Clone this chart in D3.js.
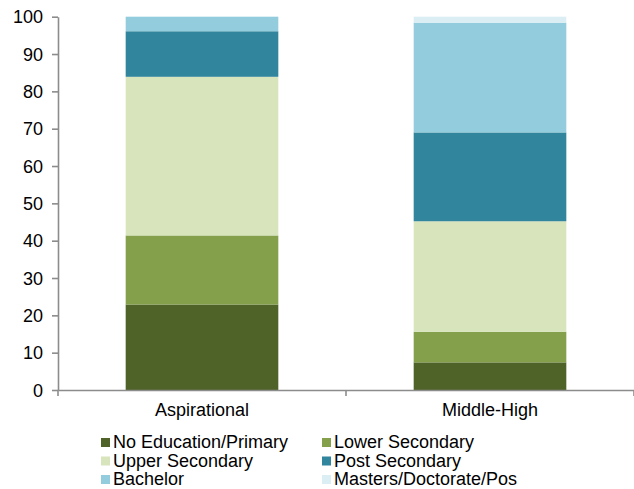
<!DOCTYPE html>
<html>
<head>
<meta charset="utf-8">
<script src="https://cdn.jsdelivr.net/npm/d3@7"></script>
<style>
  body { margin: 0; background: #fff; }
  text { font-family: "Liberation Sans", Arial, sans-serif; fill: #000; }
  .axis path, .axis line { stroke: #8c8c8c; stroke-width: 1.6; }
</style>
</head>
<body>
<svg id="chart" width="634" height="489"></svg>
<script>
const categories = ['Aspirational', 'Middle-High']
const seriesNames = ['No Education/Primary', 'Lower Secondary', 'Upper Secondary', 'Post Secondary', 'Bachelor', 'Masters/Doctorate/Pos']
const noEducation = [22.9, 7.4]
const lowerSecondary = [18.5, 8.2]
const upperSecondary = [42.5, 29.6]
const postSecondary = [12.2, 23.8]
const bachelor = [3.9, 29.4]
const masters = [0, 1.6]
const yTicks = [0, 10, 20, 30, 40, 50, 60, 70, 80, 90, 100]
const colors = ['#4f6228', '#84a04b', '#d8e4bc', '#31859c', '#93cddd', '#dbeef4']

const seriesValues = [noEducation, lowerSecondary, upperSecondary, postSecondary, bachelor, masters]
const rows = categories.map((c, i) => {
  const row = { category: c }
  seriesNames.forEach((s, j) => { row[s] = seriesValues[j][i] })
  return row
})

const svg = d3.select('#chart')
const plotLeft = 58, plotRight = 634, plotTop = 16.7, plotBottom = 390

const xScale = d3.scaleBand()
  .domain(categories)
  .range([plotLeft, plotRight])
  .paddingInner(0.47)
  .paddingOuter(0.235)
const yScale = d3.scaleLinear().domain([0, 100]).range([plotBottom, plotTop])

const stacked = d3.stack().keys(seriesNames)(rows)

svg.append('g')
  .selectAll('g')
  .data(stacked)
  .join('g')
  .attr('fill', (d, i) => colors[i])
  .selectAll('rect')
  .data(d => d)
  .join('rect')
  .attr('x', d => xScale(d.data.category))
  .attr('y', d => yScale(d[1]))
  .attr('width', xScale.bandwidth())
  .attr('height', d => yScale(d[0]) - yScale(d[1]))

// y axis
const yAxis = d3.axisLeft(yScale).tickValues(yTicks).tickSize(6).tickSizeOuter(0).tickPadding(9)
svg.append('g')
  .attr('class', 'axis')
  .attr('transform', `translate(${plotLeft},0)`)
  .call(yAxis)
  .call(g => g.selectAll('text').attr('font-size', 18).attr('dy', '0.34em'))

// x axis: labels under bar centres, ticks on category boundaries
const xAxis = d3.axisBottom(xScale).tickSize(0).tickSizeOuter(0).tickPadding(13)
const gx = svg.append('g')
  .attr('class', 'axis')
  .attr('transform', `translate(0,${plotBottom})`)
  .call(xAxis)
gx.selectAll('text').attr('font-size', 18)
const step = xScale.step()
const bounds = d3.range(categories.length + 1).map(i => plotLeft + i * step)
gx.selectAll('line.bound')
  .data(bounds)
  .join('line')
  .attr('class', 'bound')
  .attr('x1', d => d).attr('x2', d => d)
  .attr('y1', 0).attr('y2', 6)

// legend
const legend = svg.append('g')
const legendCols = [101, 322]
const legendRows = [448, 466.5, 485]
seriesNames.forEach((s, i) => {
  const lx = legendCols[i % 2]
  const ly = legendRows[Math.floor(i / 2)]
  legend.append('rect')
    .attr('x', lx).attr('y', ly - 10)
    .attr('width', 9).attr('height', 9)
    .attr('fill', colors[i])
  legend.append('text')
    .attr('x', lx + 12).attr('y', ly)
    .attr('font-size', 18)
    .attr('textLength', null)
    .text(s)
})
</script>
</body>
</html>
